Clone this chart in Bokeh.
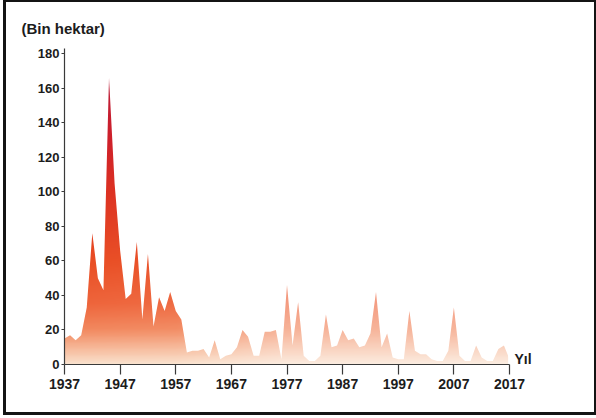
import numpy as np
from bokeh.plotting import figure
from bokeh.models import FixedTicker, Label, Range1d
from bokeh.embed import file_html
from bokeh.resources import INLINE

# ---- data (Bin hektar, yearly) ----
years = list(range(1937, 2018))
burned_area = [
    15, 17, 14, 17, 33, 76, 50, 43, 166, 105,   # 1937-1946
    66, 38, 41, 71, 26, 64, 22, 39, 31, 42,     # 1947-1956
    31, 26, 7, 8, 8, 9, 4, 14, 3, 5,            # 1957-1966
    6, 10, 20, 16, 5, 5, 19, 19, 20, 3,         # 1967-1976
    46, 11, 36, 5, 2, 2, 5, 29, 10, 11,         # 1977-1986
    20, 14, 15, 10, 11, 18, 42, 10, 18, 4,      # 1987-1996
    3, 3, 31, 8, 6, 6, 3, 2, 2, 8,              # 1997-2006
    33, 5, 2, 2, 11, 4, 2, 2, 9, 11,            # 2007-2016
    3,                                          # 2017
]
x_ticks = [1937, 1947, 1957, 1967, 1977, 1987, 1997, 2007, 2017]
y_ticks = [0, 20, 40, 60, 80, 100, 120, 140, 160, 180]
y_title = "(Bin hektar)"
x_title = "Yıl"

FONT = "Liberation Sans"
TXT = "#1c1c1c"
AX = "#3a3a3a"

x0, x1 = years[0], years[-1]
frame_w = 481
px_per_year = 5.5625
x_end = x0 + frame_w / px_per_year
ytop = 183

p = figure(width=588, height=410, output_backend="svg", toolbar_location=None,
           x_range=Range1d(x0, x_end), y_range=Range1d(0, ytop),
           min_border_left=58, min_border_right=588 - 58 - frame_w,
           min_border_top=46, min_border_bottom=48,
           margin=(2, 2, 6, 6))
p.outline_line_color = None
p.grid.visible = False
p.background_fill_color = "white"
p.styles = {"outline": "3px solid #141414", "outline-offset": "0px"}

# ---- gradient fill (vertical by value, fading toward the right) ----
gmax = 172
ny, nx = 344, 480
vals = np.linspace(0, gmax, ny)
ts = np.linspace(x0, x1, nx)
vstops = [0, 8, 20, 35, 60, 100, 130, 160, 172]
rs = [250, 247, 242, 238, 233, 220, 206, 190, 215]
gs = [226, 190, 136, 100, 76, 46, 28, 24, 150]
bs = [206, 160, 94, 58, 34, 30, 38, 50, 160]
R = np.interp(vals, vstops, rs)[:, None]
G = np.interp(vals, vstops, gs)[:, None]
B = np.interp(vals, vstops, bs)[:, None]
fade = np.interp(ts, [x0, 1957, 1976, x1], [0.0, 0.05, 0.36, 0.40])[None, :]
R2 = R + fade * (255 - R)
G2 = G + fade * (255 - G)
B2 = B + fade * (255 - B)
img = np.empty((ny, nx), dtype=np.uint32)
view = img.view(dtype=np.uint8).reshape((ny, nx, 4))
view[:, :, 0] = R2.astype(np.uint8)
view[:, :, 1] = G2.astype(np.uint8)
view[:, :, 2] = B2.astype(np.uint8)
view[:, :, 3] = 255
p.image_rgba(image=[img], x=x0, y=0, dw=(x1 - x0) - 0.25, dh=gmax)

# mask everything above the data curve with white
p.varea(x=years, y1=burned_area, y2=ytop, fill_color="white")

# ---- axes ----
for ax in (p.xaxis[0], p.yaxis[0]):
    ax.axis_line_color = AX
    ax.axis_line_width = 1.2
    ax.major_tick_line_color = AX
    ax.major_tick_line_width = 1.2
    ax.minor_tick_line_color = None
    ax.major_label_text_font = FONT
    ax.major_label_text_font_style = "bold"
    ax.major_label_text_color = TXT
    ax.major_tick_in = 0

p.xaxis.ticker = FixedTicker(ticks=x_ticks)
p.xaxis.bounds = (x0, x1)
p.xaxis.major_tick_out = 10
p.xaxis.major_label_standoff = 4
p.xaxis.major_label_text_font_size = "14px"

p.yaxis.ticker = FixedTicker(ticks=y_ticks)
p.yaxis.major_tick_out = 3
p.yaxis.major_label_standoff = 2
p.yaxis.major_label_text_font_size = "13px"

p.title.text = y_title
p.title.align = "left"
p.title.offset = -43
p.title.standoff = 23
p.title.text_font = FONT
p.title.text_font_style = "bold"
p.title.text_font_size = "15px"
p.title.text_color = TXT

p.add_layout(Label(x=x1, y=0, x_offset=5, y_offset=6, text=x_title,
                   text_font=FONT, text_font_style="bold", text_font_size="14px",
                   text_color=TXT, text_baseline="alphabetic", text_align="left"))

open("out.html", "w").write(file_html(p, INLINE))
